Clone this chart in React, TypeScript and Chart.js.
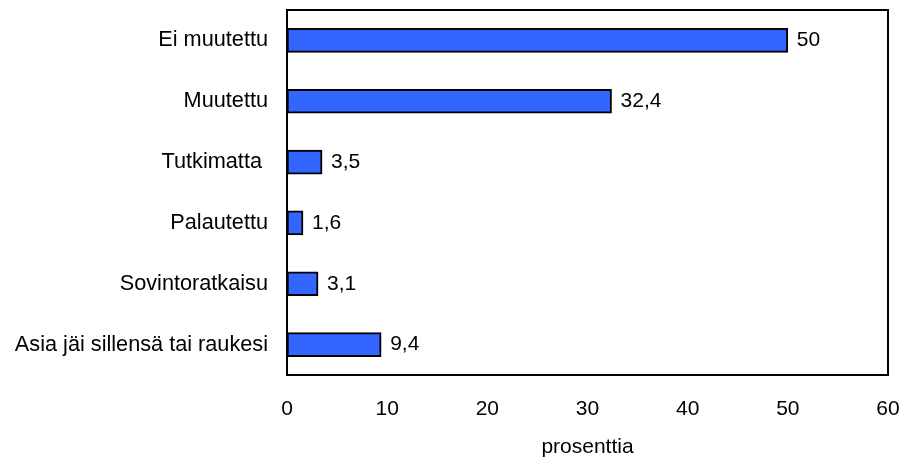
import React, { useEffect, useRef } from "react";
import { Chart, registerables } from "chart.js";

Chart.register(...registerables);

const categories = [
  "Ei muutettu",
  "Muutettu",
  "Tutkimatta ",
  "Palautettu",
  "Sovintoratkaisu",
  "Asia jäi sillensä tai raukesi",
];
const values = [50, 32.4, 3.5, 1.6, 3.1, 9.4];
const xTicks = [0, 10, 20, 30, 40, 50, 60];
const xTitle = "prosenttia";

const FONT = "'Liberation Sans', Arial, sans-serif";
const FS = 21;

const framePlugin = {
  id: "frameAndLabels",
  afterDatasetsDraw(chart: any) {
    const { ctx, chartArea } = chart;
    ctx.save();
    ctx.strokeStyle = "#000";
    ctx.lineWidth = 2;
    ctx.strokeRect(
      chartArea.left,
      chartArea.top,
      chartArea.right - chartArea.left,
      chartArea.bottom - chartArea.top
    );
    ctx.fillStyle = "#000";
    ctx.font = `${FS}px ${FONT}`;
    ctx.textAlign = "left";
    ctx.textBaseline = "middle";
    const meta = chart.getDatasetMeta(0);
    meta.data.forEach((bar: any, i: number) => {
      const txt = String(values[i]).replace(".", ",");
      ctx.fillText(txt, bar.x + 9, bar.y);
    });
    ctx.textAlign = "center";
    ctx.textBaseline = "alphabetic";
    ctx.fillText(xTitle, (chartArea.left + chartArea.right) / 2, 453);
    ctx.restore();
  },
};

const zeroPad = (scale: any) => {
  scale.paddingTop = 0;
  scale.paddingBottom = 0;
  scale.paddingLeft = 0;
  scale.paddingRight = 0;
};

export default function App() {
  const ref = useRef<HTMLCanvasElement>(null);
  useEffect(() => {
    document.body.style.margin = "0";
    const chart = new Chart(ref.current!, {
      type: "bar",
      data: {
        labels: categories,
        datasets: [
          {
            data: values,
            backgroundColor: "#3366FF",
            borderColor: "#000",
            borderWidth: 2,
            borderSkipped: false,
            barThickness: 24,
          },
        ],
      },
      options: {
        indexAxis: "y",
        animation: false,
        responsive: false,
        devicePixelRatio: 1,
        layout: { padding: { top: 10, right: 13, left: 0, bottom: 0 } },
        plugins: {
          legend: { display: false },
          tooltip: { enabled: false },
        },
        scales: {
          x: {
            min: 0,
            max: 60,
            afterBuildTicks: (scale: any) => {
              scale.ticks = xTicks.map((v) => ({ value: v }));
            },
            grid: { display: false, drawTicks: false },
            border: { display: false },
            ticks: {
              padding: 22,
              color: "#000",
              font: { family: FONT, size: FS },
              maxRotation: 0,
            },
            afterFit: (scale: any) => {
              scale.height = 82;
              zeroPad(scale);
            },
          },
          y: {
            grid: { display: false, drawTicks: false },
            border: { display: false },
            ticks: {
              padding: 19,
              color: "#000",
              font: { family: FONT, size: 21.7 },
            },
            afterFit: (scale: any) => {
              scale.width = 287;
              zeroPad(scale);
            },
          },
        },
      },
      plugins: [framePlugin],
    });
    return () => chart.destroy();
  }, []);
  return (
    <div style={{ width: 901, height: 457 }}>
      <canvas ref={ref} width={901} height={457} />
    </div>
  );
}
